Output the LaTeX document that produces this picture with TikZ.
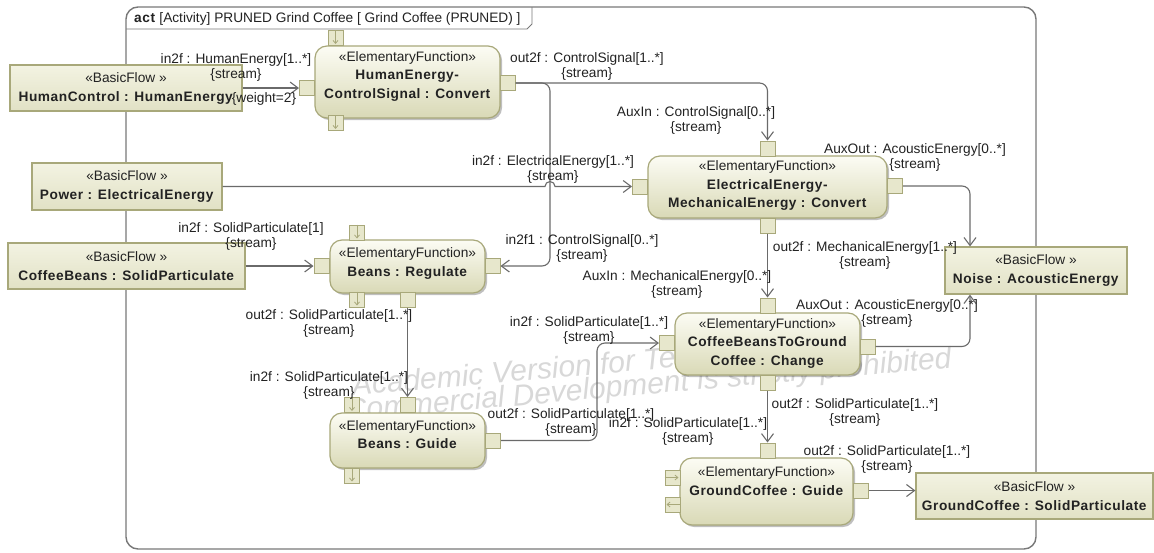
\documentclass[tikz,border=0pt]{standalone}
\usepackage{fontspec}
\setmainfont[BoldFeatures={LetterSpace=4}]{Liberation Sans}
\usetikzlibrary{arrows.meta,shadows}
\definecolor{bordc}{HTML}{A8A87A}
\definecolor{bfTop}{HTML}{F3F3E2}
\definecolor{bfBot}{HTML}{E1E1C5}
\definecolor{efTop}{HTML}{FCFCF4}
\definecolor{efBot}{HTML}{D9D9B6}
\definecolor{pinfill}{HTML}{E7E7CC}
\definecolor{linec}{HTML}{6A6A6A}
\definecolor{framec}{HTML}{787878}
\definecolor{txtc}{HTML}{222222}
\definecolor{wmc}{HTML}{D8D8D8}
\begin{document}
\begin{tikzpicture}[x=1pt,y=-1pt,
  lab/.style={font=\fontsize{13.7}{15}\selectfont, text=txtc, align=center, inner sep=0pt},
  bflow/.style={draw=bordc, line width=1.2pt, top color=bfTop, bottom color=bfBot, text=txtc, font=\fontsize{13.7}{19}\selectfont, align=center, inner sep=0pt},
  efbox/.style={draw=bordc, line width=1.2pt, rounded corners=12pt, top color=efTop, bottom color=efBot, drop shadow={shadow xshift=2pt, shadow yshift=-2pt, opacity=0.25, fill=black}},
  eftext/.style={font=\fontsize{13.7}{18.5}\selectfont, text=txtc, align=center, inner sep=0pt},
  pinbox/.style={draw=bordc, line width=1pt, fill=pinfill, minimum width=15pt, minimum height=15pt, inner sep=0pt},
  pinarr/.style={draw=bordc, line width=0.8pt, -{Straight Barb[length=3pt,width=5pt]}},
  conn/.style={draw=linec, line width=1.1pt, -{Straight Barb[length=8pt,width=12pt]}},
  wm/.style={font=\fontsize{30}{30}\selectfont\itshape, text=wmc, inner sep=0pt, anchor=west, rotate=5},
  ]
\useasboundingbox (0,0) rectangle (1154,552);

% watermark
\node[wm] (wm1) at (352,388) {Academic Version for Teaching Only};
\node[wm] (wm2) at (345,413) {Commercial Development is strictly prohibited};

% frame
\draw[framec, line width=1.4pt, rounded corners=12pt] (126,7) rectangle (1036,549);
\draw[framec, line width=0.9pt] (126,29) -- (527,29) -- (532,24) -- (532,7);
\node[lab, anchor=west] (title) at (134,18.5) {\textbf{act} [Activity] PRUNED Grind Coffee [ Grind Coffee (PRUNED) ]};

% basic flows
\node[bflow, minimum width=232pt, minimum height=46pt] (hc) at (126,88) {«BasicFlow »\\\textbf{HumanControl : HumanEnergy}};
\node[bflow, minimum width=190pt, minimum height=47pt] (pw) at (127,186.5) {«BasicFlow »\\\textbf{Power : ElectricalEnergy}};
\node[bflow, minimum width=237pt, minimum height=46pt] (cb) at (126.5,266) {«BasicFlow »\\\textbf{CoffeeBeans : SolidParticulate}};
\node[bflow, minimum width=182pt, minimum height=47pt] (nz) at (1036,270.5) {«BasicFlow »\\\textbf{Noise : AcousticEnergy}};
\node[bflow, minimum width=237pt, minimum height=46pt] (gc) at (1034.5,496) {«BasicFlow »\\\textbf{GroundCoffee : SolidParticulate}};

% elementary functions
\node[efbox, minimum width=185pt, minimum height=72pt] (ef1) at (407.5,82) {};
\node[eftext] (ef1t) at (407.5,76) {«ElementaryFunction»\\\textbf{HumanEnergy-}\\\textbf{ControlSignal : Convert}};
\node[efbox, minimum width=155pt, minimum height=53pt] (reg) at (407.5,266.5) {};
\node[eftext] (regt) at (407.5,263.5) {«ElementaryFunction»\\\textbf{Beans : Regulate}};
\node[efbox, minimum width=155pt, minimum height=55pt] (bg) at (407.5,440.5) {};
\node[eftext] (bgt) at (407.5,434.5) {«ElementaryFunction»\\\textbf{Beans : Guide}};
\node[efbox, minimum width=239pt, minimum height=62pt] (em) at (767.5,187) {};
\node[eftext] (emt) at (767.5,185.5) {«ElementaryFunction»\\\textbf{ElectricalEnergy-}\\\textbf{MechanicalEnergy : Convert}};
\node[efbox, minimum width=185pt, minimum height=62pt] (ch) at (767.5,344) {};
\node[eftext] (cht) at (767.5,343) {«ElementaryFunction»\\\textbf{CoffeeBeansToGround}\\\textbf{Coffee : Change}};
\node[efbox, minimum width=173pt, minimum height=67pt] (gg) at (766.5,491.5) {};
\node[eftext] (ggt) at (766.5,481) {«ElementaryFunction»\\\textbf{GroundCoffee : Guide}};

% pins
\node[pinbox] (ef1L) at (307,88) {};
\node[pinbox] (ef1R) at (507.5,83) {};
\node[pinbox] (ef1T) at (335.5,38) {};
\node[pinbox] (ef1B) at (335.5,123) {};
\node[pinbox] (regL) at (321.5,266) {};
\node[pinbox] (regR) at (492.5,266) {};
\node[pinbox] (regT) at (357,232.5) {};
\node[pinbox] (regB2) at (357,299.5) {};
\node[pinbox] (regB) at (407.5,299.5) {};
\node[pinbox] (bgT2) at (352,405) {};
\node[pinbox] (bgT) at (407.5,405) {};
\node[pinbox] (bgR) at (493,440.5) {};
\node[pinbox] (bgB2) at (352,475.5) {};
\node[pinbox] (emL) at (640,186.5) {};
\node[pinbox] (emR) at (895,186) {};
\node[pinbox] (emT) at (767.5,148.5) {};
\node[pinbox] (emB) at (767.5,225.5) {};
\node[pinbox] (chL) at (667,343) {};
\node[pinbox] (chR) at (867.5,346.5) {};
\node[pinbox] (chT) at (767.5,305.5) {};
\node[pinbox] (chB) at (767.5,382.5) {};
\node[pinbox] (ggT) at (767.5,450.5) {};
\node[pinbox] (ggL1) at (672.5,477.5) {};
\node[pinbox] (ggL2) at (672.5,504.5) {};
\node[pinbox] (ggR) at (860.5,490.5) {};

% pin arrows
\draw[pinarr] (ef1T.north) -- ([yshift=2pt]ef1T.south);
\draw[pinarr] (ef1B.north) -- ([yshift=2pt]ef1B.south);
\draw[pinarr] (regT.north) -- ([yshift=2pt]regT.south);
\draw[pinarr] (regB2.north) -- ([yshift=2pt]regB2.south);
\draw[pinarr] (bgT2.north) -- ([yshift=2pt]bgT2.south);
\draw[pinarr] (bgB2.north) -- ([yshift=2pt]bgB2.south);
\draw[pinarr] (ggL1.west) -- ([xshift=-2pt]ggL1.east);
\draw[pinarr] (ggL2.east) -- ([xshift=2pt]ggL2.west);

% connectors
\coordinate (j1) at (550,83);
\coordinate (j2) at (597,440.5);
\coordinate (hop) at (545,186.5);
\draw[conn] (hc) -- (ef1L);
\draw[conn, rounded corners=8pt] (ef1R.east) -| (emT.north);
\draw[conn, rounded corners=8pt] (ef1R.east) -- (j1) |- (regR.east);
\draw[conn] (pw.east) -- (hop) arc[start angle=180, end angle=360, radius=5] -- (emL.west);
\draw[conn] (cb) -- (regL);
\draw[conn] (regB) -- (bgT);
\draw[conn, rounded corners=8pt] (bgR.east) -- (j2) |- (chL.west);
\draw[conn] (emB) -- (chT);
\draw[conn, rounded corners=8pt] (emR.east) -| ([xshift=-66pt]nz.north);
\draw[conn, rounded corners=8pt] (chR.east) -| ([xshift=-66pt]nz.south);
\draw[conn] (chB) -- (ggT);
\draw[conn] (ggR.east) -- (ggR.east -| gc.west);

% labels
\node[lab] (l1) at (236,67.5) {in2f : HumanEnergy[1..*]\\\{stream\}};
\node[lab] (l1w) at (264,99) {\{weight=2\}};
\node[lab] (l2) at (587,66.5) {out2f : ControlSignal[1..*]\\\{stream\}};
\node[lab] (l3) at (696,120) {AuxIn : ControlSignal[0..*]\\\{stream\}};
\node[lab] (l4) at (553,169.5) {in2f : ElectricalEnergy[1..*]\\\{stream\}};
\node[lab] (l5) at (915,157) {AuxOut : AcousticEnergy[0..*]\\\{stream\}};
\node[lab] (l6) at (251,236.5) {in2f : SolidParticulate[1]\\\{stream\}};
\node[lab] (l7) at (582,248) {in2f1 : ControlSignal[0..*]\\\{stream\}};
\node[lab] (l8) at (865,255) {out2f : MechanicalEnergy[1..*]\\\{stream\}};
\node[lab] (l9) at (677,284.5) {AuxIn : MechanicalEnergy[0..*]\\\{stream\}};
\node[lab] (l10) at (887,313) {AuxOut : AcousticEnergy[0..*]\\\{stream\}};
\node[lab] (l11) at (329,323) {out2f : SolidParticulate[1..*]\\\{stream\}};
\node[lab] (l12) at (589,330.5) {in2f : SolidParticulate[1..*]\\\{stream\}};
\node[lab] (l13) at (329,385.5) {in2f : SolidParticulate[1..*]\\\{stream\}};
\node[lab] (l14) at (855,412) {out2f : SolidParticulate[1..*]\\\{stream\}};
\node[lab] (l15) at (571,422.5) {out2f : SolidParticulate[1..*]\\\{stream\}};
\node[lab] (l16) at (688,431) {in2f : SolidParticulate[1..*]\\\{stream\}};
\node[lab] (l17) at (887,459.5) {out2f : SolidParticulate[1..*]\\\{stream\}};
\end{tikzpicture}
\end{document}
